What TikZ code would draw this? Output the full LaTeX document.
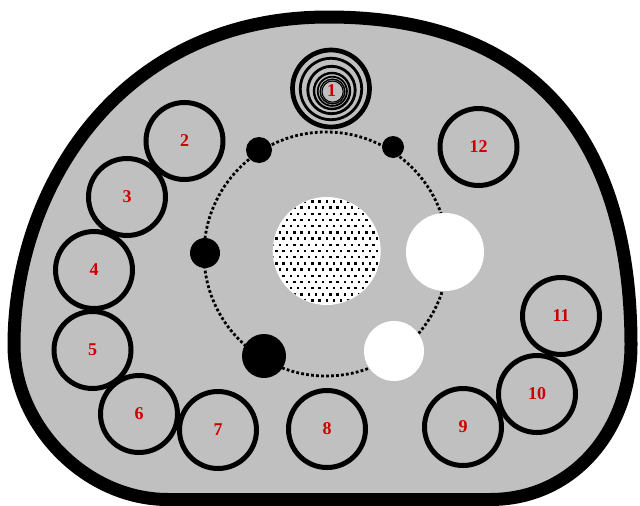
\documentclass[tikz,border=0pt]{standalone}
\usepackage{fontspec}
\setmainfont{Liberation Serif}
\begin{document}
\definecolor{bggray}{RGB}{192,192,192}
\definecolor{lblred}{RGB}{204,0,0}
\begin{tikzpicture}[x=1pt,y=-1pt,
  ring/.style={circle,draw=black,line width=5pt,minimum size=77pt,inner sep=0pt,text=lblred,font=\fontsize{18}{18}\selectfont\bfseries},
  lbl/.style={text=lblred,font=\fontsize{18}{18}\selectfont\bfseries,inner sep=0pt},
  blackdot/.style={circle,fill=black,inner sep=0pt},
  whitedisc/.style={circle,fill=white,inner sep=0pt},
  dotline/.style={line width=2.8pt,dash pattern=on 2.8pt off 2.2pt},
  spiralring/.style={draw=black,fill=none}
]
\useasboundingbox (0,0) rectangle (640,506);
% outer body
\draw[line width=13pt,line join=round,fill=bggray]
  (328,17) .. controls (118,17) and (14,190) .. (14,345)
  .. controls (14,425) and (85,499.5) .. (168,499.5)
  -- (490,499.5)
  .. controls (575,499.5) and (631,428) .. (631,345)
  .. controls (631,190) and (575,17) .. (328,17) -- cycle;
% dotted orbit
\node[circle,draw=black,dotline,minimum size=244pt,inner sep=0pt] (orbit) at (326,254) {};
% small black discs on the orbit
\node[blackdot,minimum size=26pt] (bd1) at (259,150) {};
\node[blackdot,minimum size=22pt] (bd2) at (393,147) {};
\node[blackdot,minimum size=30pt] (bd3) at (205,253) {};
\node[blackdot,minimum size=44pt] (bd4) at (264,356) {};
% white discs
\node[whitedisc,minimum size=78pt] (wd1) at (445,252) {};
\node[whitedisc,minimum size=60pt] (wd2) at (394,351) {};
% dotted central disc
\node[whitedisc,minimum size=108pt] (core) at (326.7,251) {};
\begin{scope}
  \clip (326.7,251) circle[radius=53.5pt];
  \foreach \j in {-9,...,9}{
    \foreach \i in {-8,...,8}{
      \pgfmathsetmacro{\px}{326.7+7.2*\i+3.6*mod(\j+20,2)}
      \pgfmathsetmacro{\py}{251+6.2*\j}
      \fill[black] (\px-1.2,\py-1.2) rectangle (\px+1.2,\py+1.2);
    }
  }
\end{scope}
% spiral 1
\draw[spiralring,line width=2.8pt] (331,89) circle[radius=30.7pt];
\draw[spiralring,line width=2.8pt] (331.5,90) circle[radius=23.7pt];
\draw[spiralring,line width=2.4pt] (332,91) circle[radius=18pt];
\draw[spiralring,line width=1.8pt] (332.3,91.3) circle[radius=14.6pt];
\draw[spiralring,line width=1.4pt] (332.5,91.5) circle[radius=12.3pt];
\draw[spiralring,line width=1.1pt] (332.6,91.6) circle[radius=10.6pt];
\node[ring,line width=4.7pt] (c1) at (331,88.5) {};
\node[lbl] (l1) at (331.5,91) {1};
% numbered rings
\node[ring] (c2) at (184.5,141) {2};
\node[ring] (c3) at (127,197) {3};
\node[ring] (c4) at (94,270) {4};
\node[ring] (c5) at (92.5,350) {5};
\node[ring] (c6) at (139,414) {6};
\node[ring] (c7) at (218,430) {7};
\node[ring] (c8) at (327,429) {8};
\node[ring] (c9) at (463,427) {9};
\node[ring] (c10) at (537,394) {10};
\node[ring] (c11) at (561,316) {11};
\node[ring] (c12) at (478.5,147) {12};
\end{tikzpicture}
\end{document}
